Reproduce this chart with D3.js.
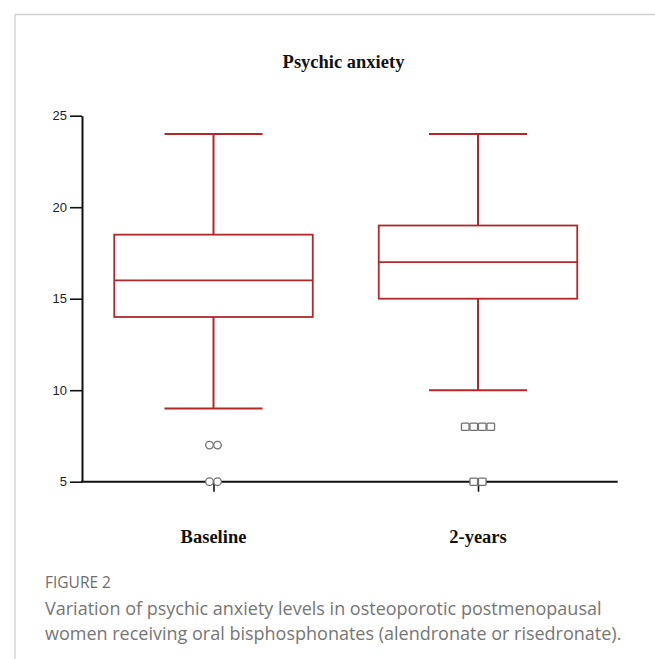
<!DOCTYPE html>
<html>
<head>
<meta charset="utf-8">
<script src="https://cdn.jsdelivr.net/npm/d3@7/dist/d3.min.js"></script>
<style>
  html, body { margin: 0; padding: 0; background: #fff; }
  svg { display: block; }
</style>
</head>
<body>
<svg id="chart" width="655" height="659"></svg>
<script>
// ---- Data ----
const categories = ["Baseline", "2-years"];
const whiskerLow  = [9, 10];
const q1          = [14, 15];
const median      = [16, 17];
const q3          = [18.5, 19];
const whiskerHigh = [24, 24];
const outliersBaseline = [7, 7, 5, 5];
const outliers2Years   = [8, 8, 8, 8, 5, 5];
const outlierShapes = ["circle", "square"];
const yTicks = [5, 10, 15, 20, 25];
const title = "Psychic anxiety";
const captionHead = "FIGURE 2";
const captionLines = [
  "Variation of psychic anxiety levels in osteoporotic postmenopausal",
  "women receiving oral bisphosphonates (alendronate or risedronate)."
];

// ---- Layout ----
const svg = d3.select("#chart");
const boxColor = "#b0282a";
const axisX0 = 82, axisX1 = 617.7;
const y = d3.scaleLinear().domain([5, 25]).range([481.7, 115.7]);
const x = d3.scalePoint().domain(categories).range([213.5, 478]);
const boxW = 198.5, capW = 98;

// frame border
svg.append("line").attr("x1", 15).attr("x2", 655).attr("y1", 14.5).attr("y2", 14.5)
  .attr("stroke", "#cfcfcf").attr("stroke-width", 1.3);
svg.append("line").attr("x1", 15).attr("x2", 15).attr("y1", 14.5).attr("y2", 659)
  .attr("stroke", "#cfcfcf").attr("stroke-width", 1.3);

// title
svg.append("text").attr("x", 343.5).attr("y", 68).attr("text-anchor", "middle")
  .attr("font-family", "'Liberation Serif','Times New Roman',serif")
  .attr("font-weight", "bold").attr("font-size", 18.5).attr("fill", "#111").text(title);

// y axis
const yAxis = d3.axisLeft(y).tickValues(yTicks).tickSize(12).tickPadding(3).tickSizeOuter(0);
const yg = svg.append("g").attr("transform", `translate(${axisX0},0)`).call(yAxis);
yg.select(".domain").attr("stroke", "#111").attr("stroke-width", 2);
yg.selectAll(".tick line").attr("stroke", "#111").attr("stroke-width", 1.6);
yg.selectAll(".tick text").attr("font-family", "'Liberation Sans',Arial,sans-serif")
  .attr("font-size", 13).attr("fill", "#222");

// x axis
const xg = svg.append("g").attr("transform", `translate(0,${y(5)})`);
xg.append("line").attr("x1", axisX0 - 1).attr("x2", axisX1).attr("y1", 0).attr("y2", 0)
  .attr("stroke", "#111").attr("stroke-width", 2);
const xAxis = d3.axisBottom(x).tickSize(10).tickSizeOuter(0).tickFormat("");
const xg2 = svg.append("g").attr("transform", `translate(0,${y(5)})`).call(xAxis);
xg2.select(".domain").remove();
xg2.selectAll(".tick line").attr("stroke", "#111").attr("stroke-width", 1.6);

// category labels
svg.selectAll(".catLabel").data(categories).enter().append("text")
  .attr("x", d => x(d)).attr("y", 543).attr("text-anchor", "middle")
  .attr("font-family", "'Liberation Serif','Times New Roman',serif")
  .attr("font-weight", "bold").attr("font-size", 18.5).attr("fill", "#111").text(d => d);

// boxes
const boxes = categories.map((c, i) => ({
  c, lo: whiskerLow[i], q1: q1[i], med: median[i], q3: q3[i], hi: whiskerHigh[i]
}));
const bg = svg.selectAll(".box").data(boxes).enter().append("g");
bg.append("line").attr("x1", d => x(d.c)).attr("x2", d => x(d.c))
  .attr("y1", d => y(d.hi)).attr("y2", d => y(d.q3)).attr("stroke", boxColor).attr("stroke-width", 2);
bg.append("line").attr("x1", d => x(d.c)).attr("x2", d => x(d.c))
  .attr("y1", d => y(d.q1)).attr("y2", d => y(d.lo)).attr("stroke", boxColor).attr("stroke-width", 2);
bg.append("line").attr("x1", d => x(d.c) - capW / 2).attr("x2", d => x(d.c) + capW / 2)
  .attr("y1", d => y(d.hi)).attr("y2", d => y(d.hi)).attr("stroke", boxColor).attr("stroke-width", 2);
bg.append("line").attr("x1", d => x(d.c) - capW / 2).attr("x2", d => x(d.c) + capW / 2)
  .attr("y1", d => y(d.lo)).attr("y2", d => y(d.lo)).attr("stroke", boxColor).attr("stroke-width", 2);
bg.append("rect").attr("x", d => x(d.c) - boxW / 2).attr("width", boxW)
  .attr("y", d => y(d.q3)).attr("height", d => y(d.q1) - y(d.q3))
  .attr("fill", "none").attr("stroke", boxColor).attr("stroke-width", 1.8);
bg.append("line").attr("x1", d => x(d.c) - boxW / 2).attr("x2", d => x(d.c) + boxW / 2)
  .attr("y1", d => y(d.med)).attr("y2", d => y(d.med)).attr("stroke", boxColor).attr("stroke-width", 1.8);

// outliers: duplicates spread side by side
function spread(vals, step) {
  const counts = d3.rollup(vals, v => v.length, v => v);
  const seen = new Map();
  return vals.map(v => {
    const n = counts.get(v);
    const k = seen.get(v) || 0;
    seen.set(v, k + 1);
    return { v, off: (k - (n - 1) / 2) * step };
  });
}
const outlierSets = [outliersBaseline, outliers2Years];
outlierSets.forEach((vals, i) => {
  const c = categories[i];
  const shape = outlierShapes[i];
  const pts = spread(vals, shape === "circle" ? 8 : 8.5);
  const g = svg.append("g");
  if (shape === "circle") {
    g.selectAll("circle").data(pts).enter().append("circle")
      .attr("cx", d => x(c) + d.off).attr("cy", d => y(d.v)).attr("r", 3.8)
      .attr("fill", "#fff").attr("stroke", "#707070").attr("stroke-width", 1.3);
  } else {
    g.selectAll("rect").data(pts).enter().append("rect")
      .attr("x", d => x(c) + d.off - 3.8).attr("y", d => y(d.v) - 3.6)
      .attr("width", 7.6).attr("height", 7.2).attr("rx", 1)
      .attr("fill", "#fff").attr("stroke", "#707070").attr("stroke-width", 1.3);
  }
});

// caption
svg.append("text").attr("x", 45).attr("y", 588)
  .attr("font-family", "'Open Sans',sans-serif").attr("font-size", 15.5)
  .attr("fill", "#6e6e6e").text(captionHead);
svg.selectAll(".cap").data(captionLines).enter().append("text")
  .attr("x", 45).attr("y", (d, i) => 615 + i * 24.5)
  .attr("font-family", "'Open Sans',sans-serif").attr("font-size", 18)
  .attr("font-weight", 400)
  .attr("fill", "#767676").text(d => d);
</script>
</body>
</html>
